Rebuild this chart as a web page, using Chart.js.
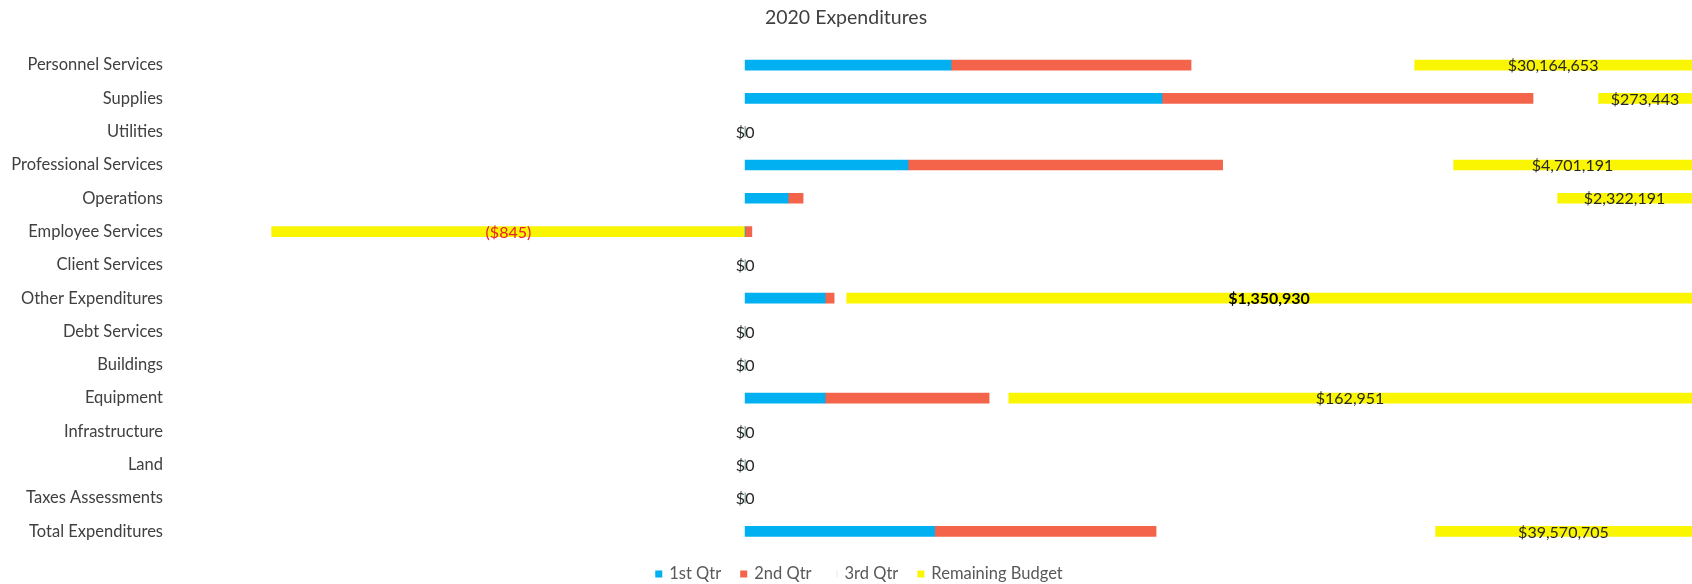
<!DOCTYPE html>
<html>
<head>
<meta charset="utf-8">
<title>2020 Expenditures</title>
<script src="https://cdn.jsdelivr.net/npm/chart.js@4/dist/chart.umd.min.js"></script>
<style>
  html, body { margin: 0; padding: 0; background: #fff; }
  #chart { display: block; }
</style>
</head>
<body>
<canvas id="chart" width="1692" height="584"></canvas>
<script>
const categories = [
  "Personnel Services", "Supplies", "Utilities", "Professional Services",
  "Operations", "Employee Services", "Client Services", "Other Expenditures",
  "Debt Services", "Buildings", "Equipment", "Infrastructure", "Land",
  "Taxes Assessments", "Total Expenditures"
];

// dollar amounts per quarter, and what is left of the budget
const qtr1 = [22353718, 1212457, 0, 3205595, 739323, 0, 0, 127774, 0, 0, 19063, 0, 0, 0, 29174864];
const qtr2 = [26043347, 1078902, 0, 6187674, 257297, 12, 0, 14365, 0, 0, 39074, 0, 0, 0, 34102952];
const qtr3 = [24203661, 188904, 0, 4531791, 12965838, 833, 0, 19053, 0, 0, 4535, 0, 0, 0, 42953098];
const remaining = [30164653, 273443, 0, 4701191, 2322191, -845, 0, 1350930, 0, 0, 162951, 0, 0, 0, 39570705];

const seriesNames = ["1st Qtr", "2nd Qtr", "3rd Qtr", "Remaining Budget"];
const seriesValues = [qtr1, qtr2, qtr3, remaining];
const seriesColors = ["#00B0F0", "#F4644A", "#FFFFFF", "#FAF500"];

// 100% stacked: each piece is its share of the row's absolute total
const rowTotals = categories.map((_, i) =>
  seriesValues.reduce((s, arr) => s + Math.abs(arr[i]), 0));
const share = (arr) => arr.map((v, i) => rowTotals[i] ? v / rowTotals[i] : 0);

function money(v) {
  const s = "$" + Math.abs(v).toLocaleString("en-US");
  return v < 0 ? "(" + s + ")" : s;
}

// value labels on the remaining-budget bars, centred on the visible part
const remainingLabels = {
  id: "remainingLabels",
  afterDatasetsDraw(chart) {
    const ctx = chart.ctx;
    const area = chart.chartArea;
    const meta = chart.getDatasetMeta(3);
    ctx.save();
    ctx.textAlign = "center";
    ctx.textBaseline = "middle";
    meta.data.forEach((bar, i) => {
      const lo = Math.max(Math.min(bar.x, bar.base), area.left);
      const hi = Math.min(Math.max(bar.x, bar.base), area.right);
      const v = remaining[i];
      const strong = categories[i] === "Other Expenditures";
      ctx.font = (strong ? "bold " : "") + "16px Lato";
      ctx.fillStyle = v < 0 ? "#E8202A" : strong ? "#000000" : "#262626";
      ctx.fillText(money(v), (lo + hi) / 2, bar.y + 1);
    });
    ctx.restore();
  }
};

// small square-marker legend under the plot
const bottomLegend = {
  id: "bottomLegend",
  afterDraw(chart) {
    const ctx = chart.ctx;
    const box = 7, gap = 7, spacing = 19;
    const centerX = 859, y = 574;
    ctx.save();
    ctx.font = "16.5px Lato";
    ctx.textBaseline = "middle";
    const items = chart.data.datasets.map((ds) => ({
      text: ds.label, color: ds.backgroundColor, w: ctx.measureText(ds.label).width,
    }));
    const total = items.reduce((s, it) => s + box + gap + it.w, 0) + spacing * (items.length - 1);
    let x = centerX - total / 2;
    items.forEach((it) => {
      ctx.fillStyle = it.color;
      ctx.fillRect(x, y - box / 2, box, box);
      if (it.color === "#FFFFFF") {
        ctx.fillStyle = "#E8E8E8";
        ctx.fillRect(x + box - 1, y - box / 2, 1, box);
      }
      ctx.fillStyle = "#595959";
      ctx.fillText(it.text, x + box + gap, y);
      x += box + gap + it.w + spacing;
    });
    ctx.restore();
  }
};

new Chart(document.getElementById("chart"), {
  type: "bar",
  data: {
    labels: categories,
    datasets: seriesNames.map((name, k) => ({
      label: name,
      data: share(seriesValues[k]),
      backgroundColor: seriesColors[k],
      borderWidth: 0,
      barThickness: 10,
    })),
  },
  options: {
    indexAxis: "y",
    responsive: false,
    animation: false,
    layout: {
      padding: { top: 0, right: 0, bottom: 32, left: 0 },
    },
    plugins: {
      title: {
        display: true,
        text: "2020 Expenditures",
        color: "#404040",
        font: { family: "Lato", size: 19.5, weight: "normal" },
        padding: { top: 6, bottom: 19 },
      },
      legend: { display: false },
      tooltip: { enabled: false },
    },
    scales: {
      x: {
        stacked: true,
        min: -0.6,
        max: 1.0,
        grid: { display: false },
        border: { display: false },
        ticks: { display: false },
        afterFit: (scale) => { scale.height = 4; },
      },
      y: {
        stacked: true,
        grid: { display: false },
        border: { display: false },
        ticks: {
          color: "#404040",
          padding: 6,
          font: { family: "Lato", size: 16.5 },
        },
        afterFit: (scale) => { scale.width = 177; },
      },
    },
  },
  plugins: [remainingLabels, bottomLegend],
});
</script>
</body>
</html>
